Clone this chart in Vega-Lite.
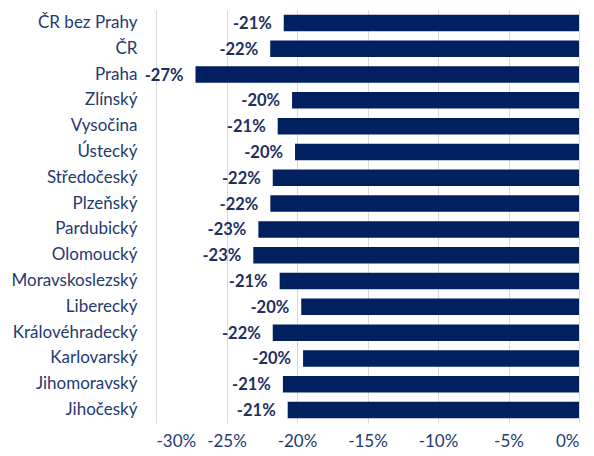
{
  "$schema": "https://vega.github.io/schema/vega-lite/v6.json",
  "width": 423,
  "height": 413,
  "autosize": "none",
  "padding": {"left": 156, "top": 10, "right": 15, "bottom": 33},
  "background": "white",
  "config": {"view": {"stroke": null}, "font": "Lato"},
  "data": {
    "values": [
      {"region": "ČR bez Prahy", "value": -20.94, "label": "-21%"},
      {"region": "ČR", "value": -21.9, "label": "-22%"},
      {"region": "Praha", "value": -27.2, "label": "-27%"},
      {"region": "Zlínský", "value": -20.35, "label": "-20%"},
      {"region": "Vysočina", "value": -21.37, "label": "-21%"},
      {"region": "Ústecký", "value": -20.14, "label": "-20%"},
      {"region": "Středočeský", "value": -21.72, "label": "-22%"},
      {"region": "Plzeňský", "value": -21.89, "label": "-22%"},
      {"region": "Pardubický", "value": -22.74, "label": "-23%"},
      {"region": "Olomoucký", "value": -23.1, "label": "-23%"},
      {"region": "Moravskoslezský", "value": -21.23, "label": "-21%"},
      {"region": "Liberecký", "value": -19.7, "label": "-20%"},
      {"region": "Královéhradecký", "value": -21.72, "label": "-22%"},
      {"region": "Karlovarský", "value": -19.57, "label": "-20%"},
      {"region": "Jihomoravský", "value": -21.0, "label": "-21%"},
      {"region": "Jihočeský", "value": -20.66, "label": "-21%"}
    ]
  },
  "encoding": {
    "y": {
      "field": "region",
      "type": "nominal",
      "sort": null,
      "scale": {"paddingInner": 0.36, "paddingOuter": 0.18},
      "axis": {
        "title": null,
        "domain": false,
        "ticks": false,
        "labelPadding": 19,
        "labelFontSize": 17,
        "labelColor": "#253a6e",
        "labelFont": "Lato"
      }
    }
  },
  "layer": [
    {
      "mark": {"type": "bar", "color": "#002060"},
      "encoding": {
        "x": {
          "field": "value",
          "type": "quantitative",
          "scale": {"domain": [-30, 0], "nice": false},
          "axis": {
            "title": null,
            "values": [-30, -25, -20, -15, -10, -5, 0],
            "labelExpr": "datum.value + '%'",
            "domain": false,
            "ticks": false,
            "grid": true,
            "gridColor": "#d9d9d9",
            "gridWidth": 1,
            "labelPadding": 10,
            "labelFontSize": 17,
            "labelColor": "#253a6e",
            "labelFont": "Lato"
          }
        }
      }
    },
    {
      "mark": {
        "type": "text",
        "align": "right",
        "baseline": "middle",
        "dx": -12,
        "dy": 1,
        "fontSize": 16.5,
        "fontWeight": "bold",
        "font": "Lato",
        "color": "#1f2f5f"
      },
      "encoding": {
        "x": {"field": "value", "type": "quantitative"},
        "text": {"field": "label"}
      }
    }
  ]
}
